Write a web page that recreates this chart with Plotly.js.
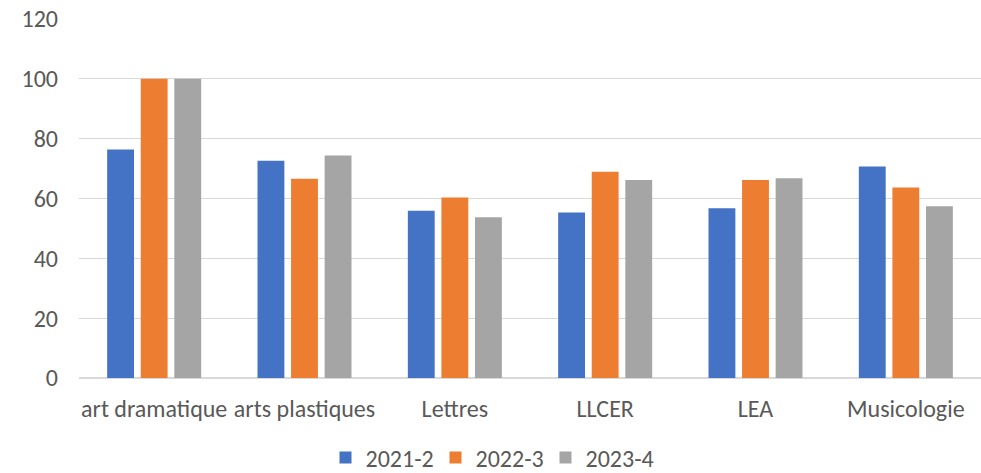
<!DOCTYPE html>
<html>
<head>
<meta charset="utf-8">
<script src="https://cdn.plot.ly/plotly-3.0.1.min.js"></script>
<style>html,body{margin:0;padding:0;background:#fff;}#chart{width:981px;height:473px;}</style>
</head>
<body>
<div id="chart"></div>
<script>
const categories = ["art dramatique", "arts plastiques", "Lettres", "LLCER", "LEA", "Musicologie"];
const seriesNames = ["2021-2", "2022-3", "2023-4"];
const values2021 = [76.4, 72.6, 55.9, 55.3, 56.7, 70.7];
const values2022 = [100, 66.6, 60.3, 68.9, 66.2, 63.7];
const values2023 = [100, 74.4, 53.7, 66.2, 66.8, 57.4];
const yTicks = [0, 20, 40, 60, 80, 100, 120];
const colors = ["#4472c4", "#ed7d31", "#a5a5a5"];

const allVals = [values2021, values2022, values2023];
const traces = allVals.map((v, i) => ({
  type: "bar",
  name: seriesNames[i],
  x: categories,
  y: v,
  marker: {color: colors[i]},
  hoverinfo: "x+y"
}));

const font = {family: "Carlito, Calibri, 'Liberation Sans', sans-serif", size: 24, color: "#595959"};
const layout = {
  width: 981, height: 473,
  margin: {l: 79, r: 0, t: 19, b: 95},
  paper_bgcolor: "#ffffff", plot_bgcolor: "#ffffff",
  font: font,
  barmode: "group",
  bargap: 0.33,
  bargroupgap: 0.2,
  xaxis: {
    showgrid: false, showline: false, ticks: "",
    tickfont: font, automargin: false, ticklabelstandoff: 14
  },
  yaxis: {
    range: [0, 120], tickvals: yTicks, ticktext: yTicks.map(String),
    showgrid: true, gridcolor: "#d9d9d9", gridwidth: 1.3,
    zeroline: true, zerolinecolor: "#d9d9d9", zerolinewidth: 1.3,
    showline: false, ticks: "", ticklabelstandoff: 20,
    tickfont: font, automargin: false
  },
  legend: {
    orientation: "h", xref: "container", yref: "container",
    x: 0.5, xanchor: "center", y: 0.032, yanchor: "middle",
    font: font, itemwidth: 30, traceorder: "normal",
    entrywidth: 65, entrywidthmode: "pixels",
    tracegroupgap: 0
  },
  showlegend: true
};
Plotly.newPlot("chart", traces, layout, {displayModeBar: false, staticPlot: true});
</script>
</body>
</html>
